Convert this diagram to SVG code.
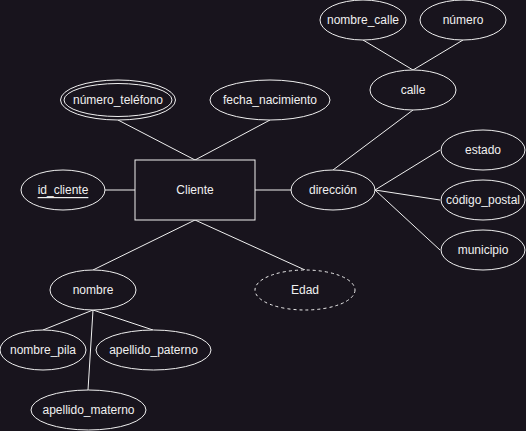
<svg xmlns="http://www.w3.org/2000/svg" width="526" height="431" viewBox="0 0 526 431">
<style>
.s{fill:none;stroke:#f0f0f0;stroke-width:1}
.n{fill:#18141d;stroke:#f0f0f0;stroke-width:1}
.d{stroke-dasharray:3 3}
text{font-family:"Liberation Sans",Arial,sans-serif;font-size:12px;fill:#f0f0f0;text-anchor:middle;dominant-baseline:central}
</style>
<rect width="526" height="431" fill="#18141d"/>
<g id="connectors" class="s">
<line x1="105" y1="190" x2="135" y2="190"/>
<line x1="255" y1="190" x2="291" y2="190"/>
<line x1="118" y1="120" x2="195" y2="160"/>
<line x1="270" y1="120" x2="195" y2="160"/>
<line x1="195" y1="220" x2="93" y2="270"/>
<line x1="195" y1="220" x2="305" y2="270"/>
<line x1="413" y1="110" x2="333" y2="170"/>
<line x1="363" y1="40" x2="413" y2="70"/>
<line x1="463" y1="40" x2="413" y2="70"/>
<line x1="375" y1="190" x2="440" y2="150"/>
<line x1="375" y1="190" x2="440" y2="200"/>
<line x1="375" y1="190" x2="440" y2="250"/>
<line x1="93" y1="310" x2="43" y2="330"/>
<line x1="93" y1="310" x2="153" y2="330"/>
<line x1="93" y1="310" x2="88" y2="390"/>
</g>
<g id="cliente"><rect class="n" x="135" y="160" width="120" height="60"/><text x="195" y="190">Cliente</text></g>
<g id="id_cliente"><ellipse class="n" cx="63" cy="190" rx="42" ry="20"/><text x="63" y="190" text-decoration="underline">id_cliente</text></g>
<g id="numero_telefono"><ellipse class="n" cx="118" cy="100" rx="57.5" ry="20"/><ellipse class="s" cx="118" cy="100" rx="54" ry="16.5"/><text x="118" y="100">número_teléfono</text></g>
<g id="fecha_nacimiento"><ellipse class="n" cx="270" cy="100" rx="60" ry="20"/><text x="270" y="100">fecha_nacimiento</text></g>
<g id="direccion"><ellipse class="n" cx="333" cy="190" rx="42" ry="20"/><text x="333" y="190">dirección</text></g>
<g id="calle"><ellipse class="n" cx="413" cy="90" rx="43" ry="20"/><text x="413" y="90">calle</text></g>
<g id="nombre_calle"><ellipse class="n" cx="363" cy="20" rx="43" ry="20"/><text x="363" y="20">nombre_calle</text></g>
<g id="numero"><ellipse class="n" cx="463" cy="20" rx="43" ry="20"/><text x="463" y="20">número</text></g>
<g id="estado"><ellipse class="n" cx="483" cy="150" rx="42" ry="20"/><text x="483" y="150">estado</text></g>
<g id="codigo_postal"><ellipse class="n" cx="483" cy="200" rx="42" ry="20"/><text x="483" y="200">código_postal</text></g>
<g id="municipio"><ellipse class="n" cx="483" cy="250" rx="42" ry="20"/><text x="483" y="250">municipio</text></g>
<g id="nombre"><ellipse class="n" cx="93" cy="290" rx="43" ry="20"/><text x="93" y="290">nombre</text></g>
<g id="edad"><ellipse class="n d" cx="305" cy="290" rx="50" ry="20"/><text x="305" y="290">Edad</text></g>
<g id="nombre_pila"><ellipse class="n" cx="43" cy="350" rx="43" ry="20"/><text x="43" y="350">nombre_pila</text></g>
<g id="apellido_paterno"><ellipse class="n" cx="153.5" cy="350" rx="57.5" ry="20"/><text x="153.5" y="350">apellido_paterno</text></g>
<g id="apellido_materno"><ellipse class="n" cx="88.5" cy="410" rx="57.5" ry="20"/><text x="88.5" y="410">apellido_materno</text></g>
</svg>
